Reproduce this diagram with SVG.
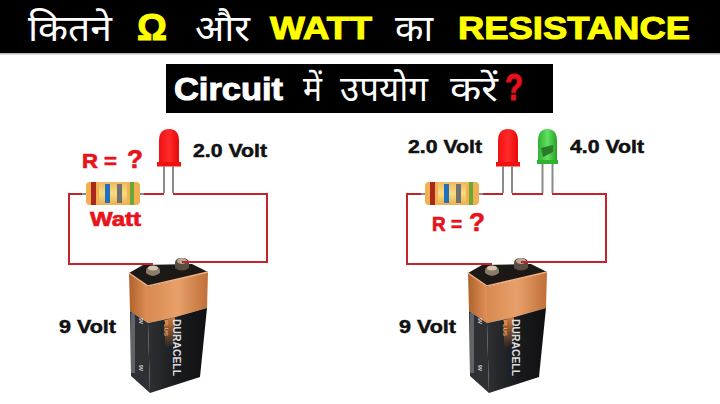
<svg xmlns="http://www.w3.org/2000/svg" width="720" height="404" viewBox="0 0 720 404">
<style>
.h{font-family:"Noto Sans Devanagari","Noto Sans","Liberation Sans",sans-serif;font-size:37px;fill:#fff;font-weight:400}
.s{font-size:35px}
.y{font-family:"Liberation Sans",Arial,sans-serif;font-weight:700;font-size:32px;fill:#ff0;stroke:#ff0;stroke-width:1}
.k{font-family:"Liberation Sans",Arial,sans-serif;font-weight:700;font-size:18px;fill:#111;stroke:#111;stroke-width:.5}
.r{font-family:"Liberation Sans",Arial,sans-serif;font-weight:700;font-size:20px;fill:#e8141c;stroke:#e8141c;stroke-width:.7}
.q{font-size:26px}
.w{fill:none;stroke:#c4232b;stroke-width:2}
.l{fill:none;stroke:#8a8a8a;stroke-width:2}
.m{font-family:"Liberation Sans",sans-serif;font-weight:700;fill:#ddd}
</style>
<defs>
<linearGradient id="cop" x1="0" x2="1" y1="0" y2="0"><stop offset="0" stop-color="#d88a50"/><stop offset=".5" stop-color="#e8a06a"/><stop offset="1" stop-color="#c06f38"/></linearGradient>
<linearGradient id="cops" x1="0" x2="1" y1="0" y2="0"><stop offset="0" stop-color="#b0622c"/><stop offset="1" stop-color="#e09058"/></linearGradient>
<linearGradient id="blk" x1="0" x2="1" y1="0" y2="0"><stop offset="0" stop-color="#2e3034"/><stop offset=".5" stop-color="#1a1b1e"/><stop offset="1" stop-color="#101012"/></linearGradient>
<linearGradient id="glow" x1="0" x2="0" y1="0" y2="1"><stop offset="0" stop-color="#d07a3a"/><stop offset="1" stop-color="#d07a3a" stop-opacity="0"/></linearGradient>
<linearGradient id="bod" x1="0" x2="0" y1="0" y2="1"><stop offset="0" stop-color="#f0b860"/><stop offset=".5" stop-color="#f8dc80"/><stop offset="1" stop-color="#e8b050"/></linearGradient>
<linearGradient id="rled" x1="0" x2="1" y1="0" y2="0"><stop offset="0" stop-color="#f01010"/><stop offset=".5" stop-color="#ff2a2a"/><stop offset="1" stop-color="#e80808"/></linearGradient>
<linearGradient id="gled" x1="0" x2="1" y1="0" y2="0"><stop offset="0" stop-color="#30b030"/><stop offset=".5" stop-color="#60e060"/><stop offset="1" stop-color="#28a028"/></linearGradient>
<g id="bat">
<path d="M129 273 L143 265 L192 264 L208 272 L148 287Z" fill="#1c1815"/>
<path d="M129 273 L148 287 L148 323 L130 311Z" fill="url(#cops)"/>
<path d="M148 287 L208 272 L207 308 L172 318 L148 323Z" fill="url(#cop)"/>
<path d="M129 273 L148 286 L208 272" fill="none" stroke="#f0b080" stroke-width="1.500"/>
<path d="M130 311 L148 323 L150 393 L131 376Z" fill="#2e3034"/>
<path d="M148 323 L172 318 L207 308 L200 377 L150 393Z" fill="url(#blk)"/>
<path d="M165 320 L175 317 L175 345 L165 348Z" fill="url(#glow)"/>
<rect x="131" y="313" width="4" height="60" fill="#77797c" opacity=".7"/>
<path d="M146 271 Q146 266 153 266 Q160 266 160 271 V273 Q153 279 146 273Z" fill="#8a7c68"/><ellipse cx="153" cy="268" rx="5" ry="2.500" fill="#d0c4ae"/>
<path d="M175 263 Q175 258 182 258 Q189 258 189 263 V268 Q182 273 175 268Z" fill="#5a4c40"/><ellipse cx="182" cy="261" rx="5" ry="3" fill="#b8a898"/>
<text class="m" transform="translate(173 319) rotate(90)" font-size="11" textLength="57" lengthAdjust="spacingAndGlyphs">DURACELL</text>
<text class="m" transform="translate(164 320) rotate(90)" font-size="6" style="fill:#e8a060">PLUS</text>
<text class="m" transform="translate(139 318) rotate(90)" font-size="5">9V</text>
<text class="m" transform="translate(139 365) rotate(90)" font-size="5">9V</text>
</g>
<g id="res">
<rect x="0" y="0" width="54" height="23" rx="5" fill="url(#bod)"/>
<rect x="0" y="0" width="13" height="23" rx="4" fill="#f2b050"/><rect x="41" y="0" width="13" height="23" rx="4" fill="#f2b050"/>
<rect x="5" y="0" width="5" height="23" fill="#a8281c"/><rect x="19" y="2" width="5" height="19" fill="#2070c0"/><rect x="31" y="2" width="5" height="19" fill="#707070"/><rect x="44" y="0" width="4" height="23" fill="#68a838"/>
</g>
<g id="led"><path d="M159 162 V141 Q159 129 169 129 Q179 129 179 141 V162Z" fill="url(#rled)"/><rect x="157" y="162" width="24" height="4.500" fill="#f01010"/></g>
</defs>
<g id="title">
<rect width="720" height="53" fill="#000"/><rect y="53" width="720" height="1.500" fill="#bbb"/>
<text class="h" x="28" y="41" textLength="84" lengthAdjust="spacingAndGlyphs">कितने</text>
<text class="y" style="font-size:36px" x="137" y="40" textLength="30" lengthAdjust="spacingAndGlyphs">Ω</text>
<text class="h" x="195" y="41" textLength="55" lengthAdjust="spacingAndGlyphs">और</text>
<text class="y" x="270" y="39" textLength="102" lengthAdjust="spacingAndGlyphs">WATT</text>
<text class="h" x="395" y="41" textLength="38" lengthAdjust="spacingAndGlyphs">का</text>
<text class="y" x="458" y="39" textLength="232" lengthAdjust="spacingAndGlyphs">RESISTANCE</text>
</g>
<g id="subtitle">
<rect x="166" y="64" width="387" height="49" fill="#000"/>
<text class="y" style="fill:#fff;stroke:#fff" x="174" y="100" textLength="109" lengthAdjust="spacingAndGlyphs">Circuit</text>
<text class="h s" x="303" y="101" textLength="19" lengthAdjust="spacingAndGlyphs">में</text>
<text class="h s" x="340" y="101" textLength="88" lengthAdjust="spacingAndGlyphs">उपयोग</text>
<text class="h s" x="450" y="101" textLength="48" lengthAdjust="spacingAndGlyphs">करें</text>
<text class="y" style="font-size:37px;fill:#e8101a;stroke:#e8101a" x="505" y="100" textLength="18" lengthAdjust="spacingAndGlyphs">?</text>
</g>
<g id="left-resistor"><use href="#res" x="86" y="182"/></g>
<g id="left-led"><use href="#led"/></g>
<g id="left-battery"><use href="#bat"/></g>
<g id="right-resistor"><use href="#res" x="425" y="182"/></g>
<g id="right-red-led"><use href="#led" x="339"/></g>
<g id="right-green-led"><path d="M538 160 V141 Q538 129 547.500 129 Q557 129 557 141 V160Z" fill="url(#gled)"/><rect x="537" y="160" width="21" height="4" fill="#30b030"/><path d="M541 148 L553 145 V152 L543 157Z" fill="#2a7a2a"/></g>
<g id="right-battery"><use href="#bat" x="339"/></g>
<g id="connectors">
<path class="w" d="M86 194 H69 V264 H153"/><path class="w" d="M182 262 H267 V194 H173"/><path class="w" d="M140 194 H164"/>
<path class="l" d="M82 194 H86 M140 194 H144 M164 166 V193 M173 166 V193"/>
<path class="w" d="M425 194 H407 V264 H492"/><path class="w" d="M521 262 H606 V194 H552"/><path class="w" d="M479 194 H503"/><path class="w" d="M512 194 H543"/>
<path class="l" d="M421 194 H425 M479 194 H483 M503 166 V193 M512 166 V193 M542.500 164 V193 M552.500 164 V193"/>
</g>
<g id="labels">
<text class="k" x="193" y="157" textLength="74" lengthAdjust="spacingAndGlyphs">2.0 Volt</text>
<text class="r" x="82" y="168" textLength="35" lengthAdjust="spacingAndGlyphs">R =</text><text class="r q" x="127" y="168">?</text>
<text class="r" x="90" y="226" textLength="51" lengthAdjust="spacingAndGlyphs">Watt</text>
<text class="k" x="59" y="333" textLength="57" lengthAdjust="spacingAndGlyphs">9 Volt</text>
<text class="k" x="408" y="153" textLength="74" lengthAdjust="spacingAndGlyphs">2.0 Volt</text>
<text class="k" x="570" y="153" textLength="74" lengthAdjust="spacingAndGlyphs">4.0 Volt</text>
<text class="r" x="432" y="231" textLength="30" lengthAdjust="spacingAndGlyphs">R =</text><text class="r q" x="469" y="231">?</text>
<text class="k" x="399" y="333" textLength="57" lengthAdjust="spacingAndGlyphs">9 Volt</text>
</g>
</svg>
